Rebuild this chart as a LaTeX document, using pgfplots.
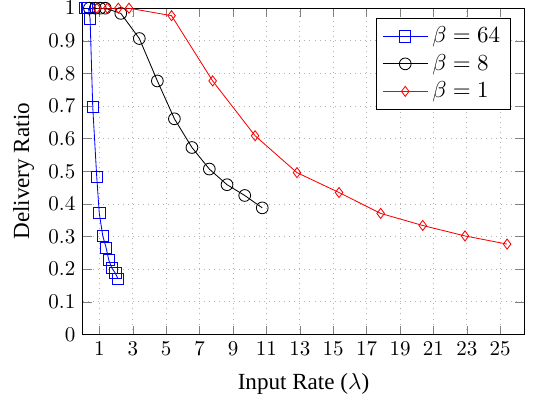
\documentclass[border=0pt]{standalone}
\usepackage{fontspec}
\setmainfont{Liberation Serif}
\usepackage{pgfplots}
\pgfplotsset{compat=1.18}
\begin{document}
\begin{tikzpicture}
\begin{axis}[
  width=210.3pt, height=155.4pt, scale only axis,
  xmin=0, xmax=26.44, ymin=0, ymax=1,
  xtick={1,3,5,7,9,11,13,15,17,19,21,23,25},
  ytick={0,0.1,0.2,0.3,0.4,0.5,0.6,0.7,0.8,0.9,1},
  grid=major, grid style={dotted, gray!60},
  xlabel={Input Rate ($\lambda$)}, ylabel={Delivery Ratio},
  label style={font=\fontsize{11}{13.5}\selectfont},
  xlabel style={yshift=-1.5pt},
  legend pos=north east, legend cell align=left,
  legend style={font=\fontsize{11}{13.6}\selectfont},
  legend image code/.code={\draw[mark repeat=2,mark phase=2] plot coordinates {(0cm,0cm) (0.375cm,0cm) (0.75cm,0cm)};},
]
\addplot[blue, mark=square, mark size=2.7pt] coordinates {
(0.14,1) (0.25,1) (0.34,1) (0.44,0.969) (0.60,0.697) (0.84,0.482) (0.99,0.372)
(1.20,0.302) (1.40,0.266) (1.56,0.228) (1.75,0.203) (1.95,0.188) (2.11,0.171)
};
\addlegendentry{$\beta=64$}
\addplot[black, mark=o, mark size=2.8pt] coordinates {
(0.40,1) (0.75,1) (1.05,1) (1.35,1) (2.28,0.984) (3.39,0.907) (4.47,0.777)
(5.49,0.661) (6.54,0.573) (7.58,0.507) (8.64,0.459) (9.70,0.426) (10.75,0.388)
};
\addlegendentry{$\beta=8$}
\addplot[red, mark=diamond, mark size=2.4pt] coordinates {
(0.84,1) (1.47,1) (2.13,1) (2.77,1) (5.32,0.977) (7.78,0.777) (10.32,0.609)
(12.83,0.496) (15.35,0.435) (17.84,0.371) (20.36,0.334) (22.89,0.302) (25.41,0.277)
};
\addlegendentry{$\beta=1$}
\coordinate (O) at (rel axis cs:0,0);
\end{axis}
\pgfresetboundingbox
\path (O) ++(-39.4pt,-29.7pt) rectangle ++(261pt,189pt);
\end{tikzpicture}
\end{document}
